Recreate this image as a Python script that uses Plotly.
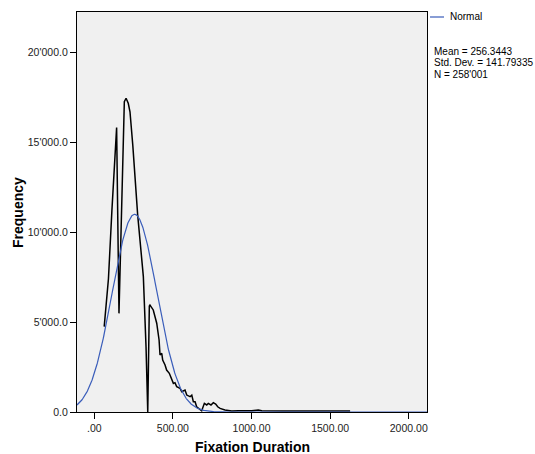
import numpy as np
import plotly.graph_objects as go

# Observed frequency polygon of fixation durations (ms -> count)
duration = [63, 90, 112, 130, 142, 157, 174, 191, 202, 216, 227, 245, 276, 312, 329, 340,
            350, 354, 375, 397, 412, 418, 429, 435, 450, 460, 477, 492, 503, 513, 524,
            545, 556, 577, 588, 609, 620, 630, 641, 651, 672, 683, 700, 715, 725, 742,
            757, 772, 785, 800, 831, 874, 916, 959, 1001, 1043, 1065, 1200, 1400, 1627]
frequency = [4740, 7400, 11200, 13900, 15800, 5480, 10940, 17240, 17430, 17150, 16680,
             14800, 10940, 7520, 3630, 0,
             5890, 5940, 5670, 4930, 4000, 3170, 3260, 2890, 2610, 2330, 2150, 1780,
             1590, 1630, 1410, 1320, 1130, 1220, 940, 850, 940, 570, 570, 290, 150, 70,
             480, 390, 480, 390, 520, 440, 290, 200, 110, 60, 70, 60, 70, 110, 70, 60,
             60, 55]

# Summary statistics of the fitted normal curve
MEAN = 256.3443
STD_DEV = 141.79335
N_OBS = 258001
BIN_WIDTH = 15.13

x_ticks = [0, 500, 1000, 1500, 2000]
x_tick_text = [".00", "500.00", "1000.00", "1500.00", "2000.00"]
y_ticks = [0, 5000, 10000, 15000, 20000]
y_tick_text = ["0.0", "5'000.0", "10'000.0", "15'000.0", "20'000.0"]

X_RANGE = [-110, 2116]
Y_RANGE = [0, 22222]

xs = np.linspace(X_RANGE[0], X_RANGE[1], 800)
normal_y = N_OBS * BIN_WIDTH / (STD_DEV * np.sqrt(2 * np.pi)) * np.exp(-0.5 * ((xs - MEAN) / STD_DEV) ** 2)

FONT = "Liberation Sans, Arial, sans-serif"
BLUE = "#3A5DBA"

fig = go.Figure()
fig.add_trace(go.Scatter(x=duration, y=frequency, mode="lines",
                         line=dict(color="black", width=1.5), showlegend=False))
fig.add_trace(go.Scatter(x=xs, y=normal_y, mode="lines",
                         line=dict(color=BLUE, width=1.2), showlegend=False))

axis_common = dict(showgrid=False, zeroline=False, showline=True, linecolor="black",
                   linewidth=1.3, mirror=True, ticks="outside", ticklen=6, tickwidth=1,
                   tickcolor="black", automargin=False,
                   tickfont=dict(family=FONT, size=10.5, color="#222"))

fig.update_xaxes(range=X_RANGE, tickvals=x_ticks, ticktext=x_tick_text, **axis_common)
fig.update_yaxes(range=Y_RANGE, tickvals=y_ticks, ticktext=y_tick_text, **axis_common)

# Axis titles
fig.add_annotation(text="<b>Fixation Duration</b>", xref="paper", yref="paper", x=0.5, y=-0.0868,
                   xanchor="center", yanchor="middle", showarrow=False,
                   font=dict(family=FONT, size=14, color="black"))
fig.add_annotation(text="<b>Frequency</b>", xref="paper", yref="paper", x=-0.1686, y=0.5,
                   xanchor="center", yanchor="middle", textangle=-90, showarrow=False,
                   font=dict(family=FONT, size=14, color="black"))

# Legend entry and statistics block to the right of the plot
fig.add_shape(type="line", xref="paper", yref="paper", x0=1.0086, x1=1.0486, y0=0.9875, y1=0.9875,
              line=dict(color=BLUE, width=1.2))
fig.add_annotation(text="Normal", xref="paper", yref="paper", x=1.06, y=0.9875,
                   xanchor="left", yanchor="middle", showarrow=False,
                   font=dict(family=FONT, size=10, color="black"))
stats_lines = [f"Mean = {MEAN}", f"Std. Dev. = {STD_DEV}", "N = 258'001"]
for i, line in enumerate(stats_lines):
    fig.add_annotation(text=line, xref="paper", yref="paper", x=1.0143, y=0.9 - i * 0.0275,
                       xanchor="left", yanchor="middle", showarrow=False,
                       font=dict(family=FONT, size=10, color="black"))

fig.update_layout(width=535, height=454, margin=dict(l=77, r=108, t=12, b=42),
                  plot_bgcolor="#F0F0F0", paper_bgcolor="white",
                  font=dict(family=FONT))

fig.write_html("out.html")
